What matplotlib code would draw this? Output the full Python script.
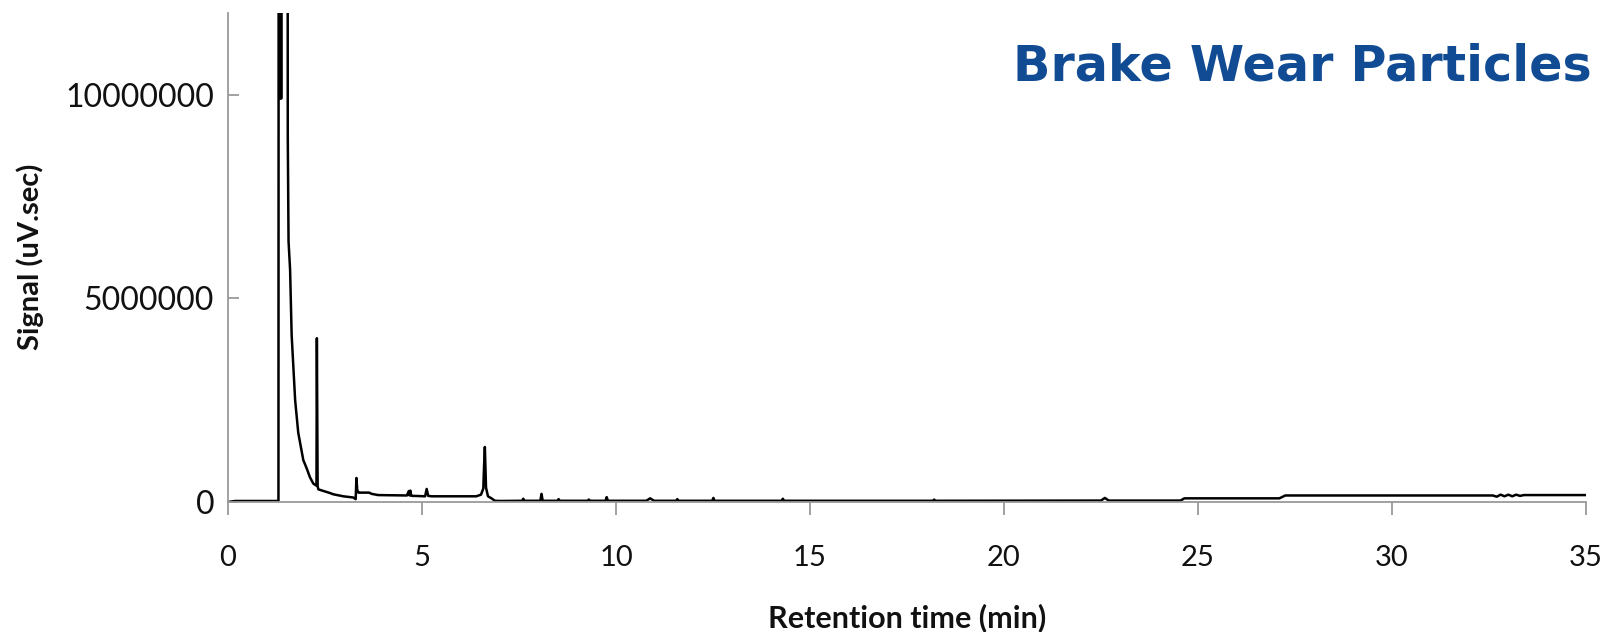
import matplotlib
matplotlib.use('Agg')
import matplotlib.pyplot as plt
from matplotlib.ticker import FuncFormatter
import numpy as np

# chromatogram: retention time (min), signal (millions of uV.sec)
time_min = [0.00, 0.18, 1.30, 1.31, 1.33, 1.35, 1.37, 1.38, 1.53, 1.54, 1.56,
            1.60, 1.64, 1.73, 1.81, 1.94, 2.03, 2.11, 2.20, 2.28, 2.29, 2.31,
            2.33, 2.46, 2.63, 2.71, 2.97, 3.23, 3.29, 3.31, 3.33, 3.36, 3.38,
            3.64, 3.70, 3.87, 4.61, 4.66, 4.68, 4.70, 4.72, 4.74, 4.76, 4.80,
            5.08, 5.12, 5.16, 5.25, 6.40, 6.52, 6.58, 6.60, 6.62, 6.65, 6.70,
            6.79, 6.88, 7.00, 7.58, 7.61, 7.64, 8.05, 8.08, 8.11, 8.49, 8.52,
            8.55, 9.27, 9.30, 9.33, 9.73, 9.76, 9.79, 10.78, 10.88, 10.98,
            11.55, 11.58, 11.61, 12.48, 12.51, 12.54, 14.27, 14.30, 14.33,
            18.17, 18.20, 18.23, 22.50, 22.60, 22.70, 24.55, 24.65, 27.10,
            27.25, 32.60, 32.70, 32.80, 32.90, 33.00, 33.10, 33.20, 33.30,
            33.40, 35.00]
signal_m = [0.00, 0.025, 0.025, 30.0, 9.9, 30.0, 9.9, 30.0, 30.0, 9.0, 6.4,
            5.7, 4.1, 2.5, 1.7, 1.03, 0.82, 0.61, 0.45, 0.40, 4.02, 0.38,
            0.31, 0.27, 0.22, 0.19, 0.14, 0.11, 0.07, 0.59, 0.30, 0.23, 0.23,
            0.23, 0.20, 0.17, 0.16, 0.27, 0.16, 0.28, 0.16, 0.15, 0.15, 0.15,
            0.14, 0.32, 0.15, 0.14, 0.14, 0.18, 0.33, 0.90, 1.35, 0.35, 0.14,
            0.09, 0.03, 0.025, 0.03, 0.08, 0.03, 0.03, 0.20, 0.03, 0.03, 0.07,
            0.03, 0.03, 0.06, 0.03, 0.03, 0.12, 0.03, 0.03, 0.09, 0.03,
            0.03, 0.07, 0.03, 0.03, 0.10, 0.03, 0.03, 0.08, 0.03,
            0.03, 0.06, 0.03, 0.035, 0.10, 0.035, 0.035, 0.09, 0.09,
            0.16, 0.16, 0.13, 0.18, 0.14, 0.18, 0.14, 0.18, 0.15,
            0.17, 0.17]

x_ticks = [0, 5, 10, 15, 20, 25, 30, 35]
y_ticks = [0, 5000000, 10000000]

fig = plt.figure(figsize=(16.08, 6.32), dpi=100)
ax = fig.add_axes([0.1418, 0.2057, 0.8445, 0.7737])

ax.plot(time_min, np.array(signal_m) * 1e6, color='black', lw=1.8)

ax.set_xlim(0, 35)
ax.set_ylim(0, 12000000)
ax.set_xticks(x_ticks)
ax.set_yticks(y_ticks)
ax.yaxis.set_major_formatter(FuncFormatter(lambda v, p: '%d' % v))

for side in ['top', 'right']:
    ax.spines[side].set_visible(False)
for side in ['left', 'bottom']:
    ax.spines[side].set_color('#9a9a9a')
    ax.spines[side].set_linewidth(1.3)

ax.tick_params(axis='x', direction='out', length=9, width=1.3, color='#9a9a9a',
               pad=22, labelsize=21)
ax.tick_params(axis='y', direction='in', length=8, width=1.3, color='#9a9a9a',
               pad=10, labelsize=23)
for lab in ax.get_xticklabels() + ax.get_yticklabels():
    lab.set_fontfamily('Lato')
    lab.set_color('#111111')

ax.set_xlabel('Retention time (min)', fontfamily='Lato', fontweight='bold',
              fontsize=22, color='#111111', va='center')
ax.xaxis.set_label_coords(0.5, -0.236)
ax.set_ylabel('Signal (uV.sec)', fontfamily='Lato', fontweight='bold',
              fontsize=21, color='#111111', va='center')
ax.yaxis.set_label_coords(-0.1458, 0.502)

fig.text(0.990, 0.873, 'Brake Wear Particles', ha='right', va='baseline',
         fontfamily='DejaVu Sans', fontweight='bold', fontsize=35.5,
         color='#114b93')

fig.savefig('out.png', dpi=100)
